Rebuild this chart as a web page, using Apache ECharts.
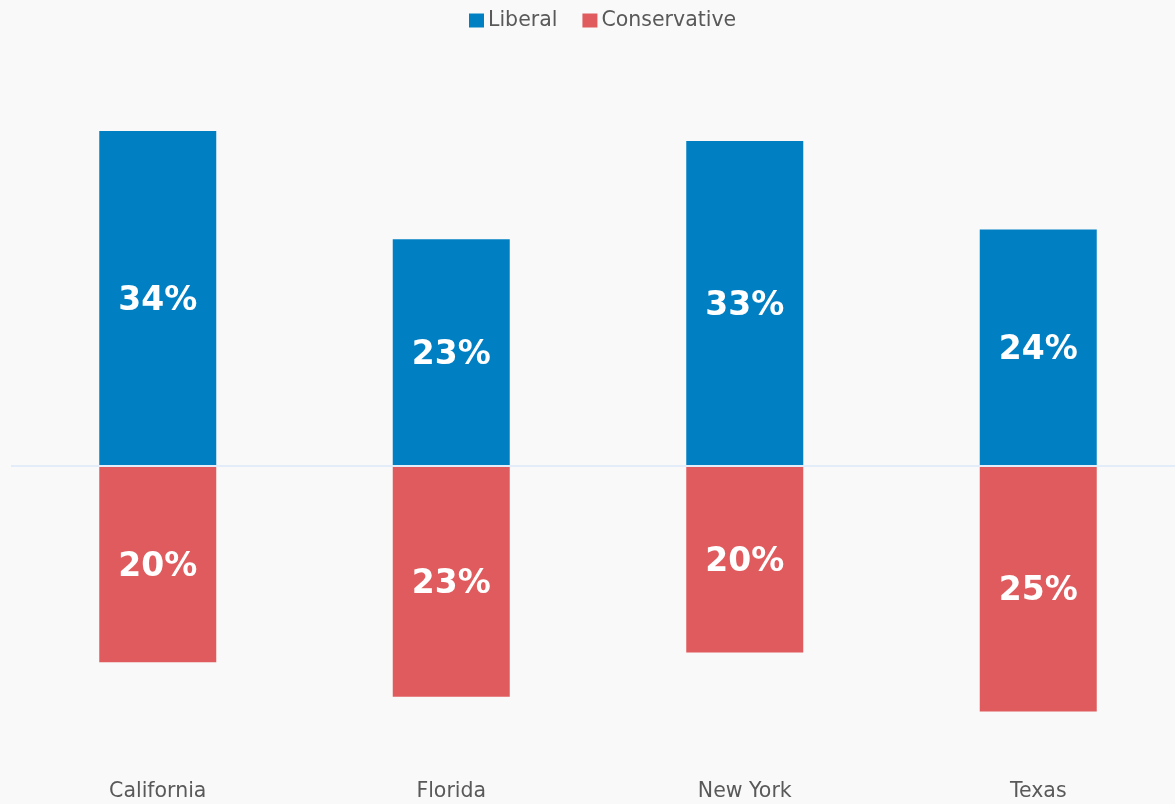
<!DOCTYPE html>
<html>
<head>
<meta charset="utf-8">
<script src="https://cdn.jsdelivr.net/npm/echarts@6/dist/echarts.min.js"></script>
<style>
html,body{margin:0;padding:0;background:#f9f9f9;}
#chart{width:1175px;height:804px;}
</style>
</head>
<body>
<div id="chart"></div>
<script>
var categories = ['California', 'Florida', 'New York', 'Texas'];
var liberal = [34, 23, 33, 24];
var conservative = [-20, -23.5, -19, -25];
var liberalLabels = ['34%', '23%', '33%', '24%'];
var conservativeLabels = ['20%', '23%', '20%', '25%'];

var chart = echarts.init(document.getElementById('chart'));
var labelStyle = {
  show: true,
  position: 'inside',
  offset: [0, 3],
  color: '#ffffff',
  fontFamily: 'DejaVu Sans',
  fontWeight: 'bold',
  fontSize: 33
};
chart.setOption({
  backgroundColor: '#f9f9f9',
  animation: false,
  legend: {
    left: 464,
    top: 5,
    itemWidth: 15,
    itemHeight: 14,
    itemGap: 25,
    icon: 'rect',
    textStyle: { fontFamily: 'DejaVu Sans', fontSize: 20.5, color: '#595959', padding: [0, 0, 0, -1] },
    data: ['Liberal', 'Conservative']
  },
  grid: { left: 11, width: 1174, top: 72, height: 698.6, containLabel: false, outerBoundsMode: 'none' },
  xAxis: {
    type: 'category',
    data: categories,
    axisLine: { show: false, onZero: false },
    axisTick: { show: false },
    axisLabel: { fontFamily: 'DejaVu Sans', fontSize: 20.5, color: '#595959', margin: 11 }
  },
  yAxis: {
    type: 'value',
    min: -31,
    max: 40,
    show: false,
    splitLine: { show: false }
  },
  series: [
    {
      name: 'Liberal',
      type: 'bar',
      stack: 'total',
      barWidth: 117,
      itemStyle: { color: '#0080c3' },
      label: Object.assign({}, labelStyle, {
        formatter: function (p) { return liberalLabels[p.dataIndex]; }
      }),
      data: liberal,
      markLine: {
        silent: true,
        symbol: ['none', 'none'],
        label: { show: false },
        lineStyle: { color: '#e3edf9', width: 2, type: 'solid' },
        data: [{ yAxis: 0 }],
        z: 10
      }
    },
    {
      name: 'Conservative',
      type: 'bar',
      stack: 'total',
      barWidth: 117,
      itemStyle: { color: '#e05b5d' },
      label: Object.assign({}, labelStyle, {
        formatter: function (p) { return conservativeLabels[p.dataIndex]; }
      }),
      data: conservative
    }
  ]
});
</script>
</body>
</html>
